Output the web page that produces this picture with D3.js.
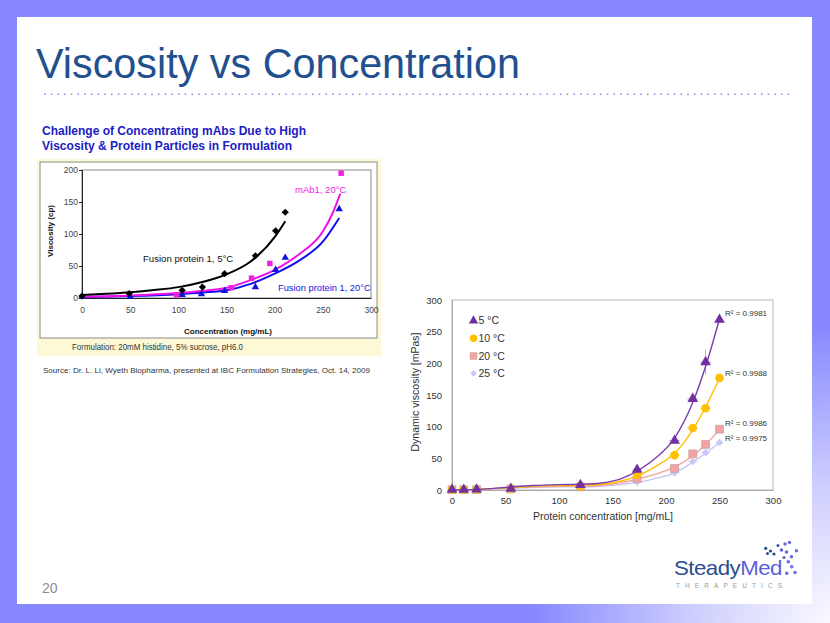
<!DOCTYPE html>
<html><head><meta charset="utf-8">
<script src="https://cdn.jsdelivr.net/npm/d3@7"></script>
<style>
body{margin:0;background:#fff}
svg{display:block}
text{font-family:"Liberation Sans",Arial,sans-serif}
</style>
</head><body>
<svg id="c" width="830" height="623"></svg>
<script>
// ---------- DATA ----------
// Left chart (pasted figure): Viscosity (cp) vs Concentration (mg/mL)
const leftXTicks = [0, 50, 100, 150, 200, 250, 300];
const leftYTicks = [0, 50, 100, 150, 200];
const fp5X  = [0, 49, 104, 125, 148, 180, 201, 211];
const fp5Y  = [3, 7, 12, 17, 38, 66, 105, 134];
const mab20X = [98, 155, 176, 195, 269];
const mab20Y = [5, 16, 31, 54, 195];
const fp20X = [0, 50, 104, 124, 148, 180, 201, 211, 267];
const fp20Y = [2, 2, 5, 6, 11, 17, 44, 63, 139];
// fitted trend lines as drawn in the figure
const fp5FitX  = [0, 25, 50, 75, 100, 125, 150, 175, 200, 211];
const fp5FitY  = [4.5, 6.5, 9, 12.5, 17, 25, 37, 57, 95, 120];
const mabFitX  = [0, 50, 100, 125, 150, 175, 200, 225, 250, 260, 268];
const mabFitY  = [2, 4, 8, 11, 16, 28, 44, 68, 104, 132, 163];
const fp20FitX = [0, 50, 100, 125, 150, 175, 200, 225, 250, 267];
const fp20FitY = [1.5, 3, 6, 8.5, 12, 22, 38, 58, 88, 125];

// Right chart: Dynamic viscosity [mPas] vs Protein concentration [mg/mL]
const rightXTicks = [0, 50, 100, 150, 200, 250, 300];
const rightYTicks = [0, 50, 100, 150, 200, 250, 300];
const conc = [0, 11, 23, 55, 120, 173, 208, 225, 237, 250];
const visc5  = [0.5, 0.6, 0.8, 2, 8, 32, 78, 144, 202, 269];
const visc10 = [0.5, 0.5, 0.7, 2, 6, 24, 55, 98, 129, 177];
const visc20 = [0.5, 0.5, 0.5, 1.5, 5, 18, 34, 57, 72, 96];
const visc25 = [0.3, 0.3, 0.4, 1.2, 4, 13, 27, 45, 59, 75];
const errX   = [0, 0, 0, 0, 3, 4, 5, 5, 5, 3];
const err5Y  = [0, 0, 0, 0, 3, 3, 5, 4, 20, 3];
const fitConc = [0, 25, 50, 75, 100, 120, 140, 160, 173, 190, 208, 225, 237, 250];
const fit5  = [0, 1, 4, 7, 8.5, 9, 11, 19, 30, 50, 82, 138, 195, 270];
const fit10 = [0, 1, 3.5, 6, 7, 7.5, 9, 15, 22, 37, 58, 95, 131, 177];
const fit20 = [0, 1, 3, 5, 6, 6, 7.5, 12, 17, 25, 36, 54, 72, 95];
const fit25 = [0, 0.8, 2.5, 4, 5, 5, 6, 9, 12, 18, 27, 44, 58, 75];
const seriesNames = ["5 °C", "10 °C", "20 °C", "25 °C"];
const r2Labels = ["R² = 0.9981", "R² = 0.9988", "R² = 0.9986", "R² = 0.9975"];

// ---------- DRAW ----------
const svg = d3.select("#c");
const W = 830, H = 623;

// slide frame
const defs = svg.append("defs");
const rg = defs.append("radialGradient").attr("id", "glow")
  .attr("gradientUnits", "userSpaceOnUse").attr("cx", 830).attr("cy", 623).attr("r", 300);
rg.append("stop").attr("offset", "0%").attr("stop-color", "#fff").attr("stop-opacity", 0.95);
rg.append("stop").attr("offset", "45%").attr("stop-color", "#fff").attr("stop-opacity", 0.6);
rg.append("stop").attr("offset", "100%").attr("stop-color", "#fff").attr("stop-opacity", 0);
const framePath = `M0,0H${W}V${H}H0Z M17,17V604H812V17Z`;
svg.append("path").attr("d", framePath).attr("fill", "#8787FF").attr("fill-rule", "evenodd");
svg.append("path").attr("d", framePath).attr("fill", "url(#glow)").attr("fill-rule", "evenodd");

// title
svg.append("text").attr("x", 36).attr("y", 78)
  .attr("font-size", 42).attr("fill", "#22508F")
  .attr("textLength", 484).attr("lengthAdjust", "spacingAndGlyphs")
  .text("Viscosity vs Concentration");
// dotted rule
svg.append("line").attr("x1", 44).attr("x2", 790).attr("y1", 94.3).attr("y2", 94.3)
  .attr("stroke", "#8C8CF5").attr("stroke-width", 1.6)
  .attr("stroke-dasharray", "1.6,5.1");

// page number
svg.append("text").attr("x", 42).attr("y", 593).attr("font-size", 14).attr("fill", "#8E8E8E").text("20");

// rotated-square diamond generator
const diamondPath = size => d3.symbol(d3.symbolSquare, size)();

// ---------- LEFT FIGURE ----------
const lt = svg.append("g");
lt.append("text").attr("x", 42).attr("y", 135).attr("font-size", 12).attr("font-weight", "bold")
  .attr("fill", "#2020C4").attr("textLength", 264).attr("lengthAdjust", "spacingAndGlyphs")
  .text("Challenge of Concentrating mAbs Due to High");
lt.append("text").attr("x", 42).attr("y", 150).attr("font-size", 12).attr("font-weight", "bold")
  .attr("fill", "#2020C4").attr("textLength", 250).attr("lengthAdjust", "spacingAndGlyphs")
  .text("Viscosity & Protein Particles in Formulation");

lt.append("rect").attr("x", 37).attr("y", 159).attr("width", 344).attr("height", 197).attr("fill", "#FDF9D6");
lt.append("rect").attr("x", 40).attr("y", 162).attr("width", 337).attr("height", 176)
  .attr("fill", "#fff").attr("stroke", "#8a8a8a").attr("stroke-width", 1);

const xL = d3.scaleLinear().domain([0, 300]).range([82, 371]);
const yL = d3.scaleLinear().domain([0, 200]).range([298, 170]);

// plot frame
lt.append("rect").attr("x", xL(0)).attr("y", yL(200)).attr("width", xL(300) - xL(0)).attr("height", yL(0) - yL(200))
  .attr("fill", "none").attr("stroke", "#888").attr("stroke-width", 1);

const axL = lt.append("g").attr("transform", `translate(${xL(0)},0)`)
  .call(d3.axisLeft(yL).tickValues(leftYTicks).tickSize(3).tickPadding(1));
axL.select(".domain").attr("stroke", "#222");
axL.selectAll("line").attr("stroke", "#222");
axL.selectAll("text").attr("font-size", 8.5).attr("fill", "#444").attr("font-family", "Liberation Sans, Arial");

const axB = lt.append("g").attr("transform", `translate(0,${yL(0)})`)
  .call(d3.axisBottom(xL).tickValues(leftXTicks).tickSize(0).tickPadding(9));
axB.select(".domain").attr("stroke", "#222");
axB.selectAll("text").attr("font-size", 8.5).attr("fill", "#444").attr("font-family", "Liberation Sans, Arial");

lt.append("text").attr("x", 228).attr("y", 334).attr("text-anchor", "middle")
  .attr("font-size", 8).attr("font-weight", "bold").attr("fill", "#111").text("Concentration (mg/mL)");
lt.append("text").attr("transform", "translate(53,231) rotate(-90)").attr("text-anchor", "middle")
  .attr("font-size", 8).attr("font-weight", "bold").attr("fill", "#111").text("Viscosity (cp)");

const lineL = d3.line().x(d => xL(d[0])).y(d => yL(d[1])).curve(d3.curveMonotoneX);
const zip = (a, b) => a.map((v, i) => [v, b[i]]);
lt.append("path").attr("d", lineL(zip(fp20FitX, fp20FitY))).attr("fill", "none").attr("stroke", "#1010F0").attr("stroke-width", 2);
lt.append("path").attr("d", lineL(zip(mabFitX, mabFitY))).attr("fill", "none").attr("stroke", "#F010E8").attr("stroke-width", 2);
lt.append("path").attr("d", lineL(zip(fp5FitX, fp5FitY))).attr("fill", "none").attr("stroke", "#000").attr("stroke-width", 2);

lt.selectAll(".tb").data(zip(fp20X, fp20Y)).join("path")
  .attr("transform", d => `translate(${xL(d[0])},${yL(d[1])})`)
  .attr("d", d3.symbol(d3.symbolTriangle, 24)).attr("fill", "#1010E0");
lt.selectAll(".sq").data(zip(mab20X, mab20Y)).join("path")
  .attr("transform", d => `translate(${xL(d[0])},${yL(d[1])})`)
  .attr("d", d3.symbol(d3.symbolSquare, 30)).attr("fill", "#F020E0");
lt.selectAll(".dm").data(zip(fp5X, fp5Y)).join("path")
  .attr("transform", d => `translate(${xL(d[0])},${yL(d[1])}) rotate(45)`)
  .attr("d", diamondPath(26)).attr("fill", "#000");

lt.append("text").attr("x", 143).attr("y", 262).attr("font-size", 9.6).attr("fill", "#111").text("Fusion protein 1, 5°C");
lt.append("text").attr("x", 295).attr("y", 193).attr("font-size", 9.5).attr("fill", "#F020E0").text("mAb1, 20°C");
lt.append("text").attr("x", 278).attr("y", 291).attr("font-size", 9.3).attr("fill", "#1515E0").text("Fusion protein 1, 20°C");

lt.append("text").attr("x", 72).attr("y", 350).attr("font-size", 8.6).attr("fill", "#333")
  .attr("textLength", 171).attr("lengthAdjust", "spacingAndGlyphs")
  .text("Formulation: 20mM histidine, 5% sucrose, pH6.0");
lt.append("text").attr("x", 43).attr("y", 373).attr("font-size", 8).attr("fill", "#333")
  .attr("textLength", 327).attr("lengthAdjust", "spacingAndGlyphs")
  .text("Source: Dr. L. Li, Wyeth Biopharma, presented at IBC Formulation Strategies, Oct. 14, 2009");

// ---------- RIGHT CHART ----------
const rt = svg.append("g");
const xR = d3.scaleLinear().domain([0, 300]).range([452, 773]);
const yR = d3.scaleLinear().domain([0, 300]).range([490, 300]);

rt.append("rect").attr("x", xR(0)).attr("y", yR(300)).attr("width", xR(300) - xR(0)).attr("height", yR(0) - yR(300))
  .attr("fill", "none").attr("stroke", "#C4C4C4").attr("stroke-width", 1.2);
const aRL = rt.append("g").attr("transform", `translate(${xR(0)},0)`)
  .call(d3.axisLeft(yR).tickValues(rightYTicks).tickSize(0).tickPadding(10));
aRL.select(".domain").attr("stroke", "#A8A8A8");
aRL.selectAll("text").attr("font-size", 9.5).attr("fill", "#333").attr("font-family", "Liberation Sans, Arial");
const aRB = rt.append("g").attr("transform", `translate(0,${yR(0)})`)
  .call(d3.axisBottom(xR).tickValues(rightXTicks).tickSize(0).tickPadding(7));
aRB.select(".domain").attr("stroke", "#A8A8A8");
aRB.selectAll("text").attr("font-size", 9.5).attr("fill", "#333").attr("font-family", "Liberation Sans, Arial");

rt.append("text").attr("x", 603).attr("y", 520).attr("text-anchor", "middle").attr("font-size", 10.5)
  .attr("fill", "#333").text("Protein concentration [mg/mL]");
rt.append("text").attr("transform", "translate(419,392) rotate(-90)").attr("text-anchor", "middle")
  .attr("font-size", 10.5).attr("fill", "#333").text("Dynamic viscosity [mPas]");

const series = [
  {name: seriesNames[0], vals: visc5,  fit: fit5,  color: "#7030A0", line: "#7A3DB0", sym: d3.symbolTriangle, size: 50, rot: 0,  stroke: "none"},
  {name: seriesNames[1], vals: visc10, fit: fit10, color: "#FFC000", line: "#FFC000", sym: d3.symbolCircle,   size: 58, rot: 0,  stroke: "none"},
  {name: seriesNames[2], vals: visc20, fit: fit20, color: "#F4A3A3", line: "#F2A0A0", sym: d3.symbolSquare,   size: 62, rot: 0,  stroke: "#B89A9A"},
  {name: seriesNames[3], vals: visc25, fit: fit25, color: "#C9C9F7", line: "#C6C6F4", sym: d3.symbolSquare,   size: 30, rot: 45, stroke: "none"}
];
const lineR = d3.line().x(d => xR(d[0])).y(d => yR(d[1])).curve(d3.curveMonotoneX);

// draw in reverse so 5°C is on top
series.slice().reverse().forEach(s => {
  const g = rt.append("g");
  g.append("path").attr("d", lineR(zip(fitConc, s.fit))).attr("fill", "none")
    .attr("stroke", s.line).attr("stroke-width", 1.4);
  const pts = zip(conc, s.vals);
  // horizontal error bars
  g.selectAll(".ex").data(pts.map((p, i) => [p, errX[i]]).filter(d => d[1] > 0)).join("line")
    .attr("x1", d => xR(d[0][0] - d[1])).attr("x2", d => xR(d[0][0] + d[1]))
    .attr("y1", d => yR(d[0][1])).attr("y2", d => yR(d[0][1]))
    .attr("stroke", s.color).attr("stroke-width", 0.8).attr("opacity", 0.6);
  if (s.name === seriesNames[0]) {
    g.selectAll(".ey").data(pts.map((p, i) => [p, err5Y[i]]).filter(d => d[1] > 0)).join("line")
      .attr("x1", d => xR(d[0][0])).attr("x2", d => xR(d[0][0]))
      .attr("y1", d => yR(d[0][1] - d[1])).attr("y2", d => yR(d[0][1] + d[1]))
      .attr("stroke", s.color).attr("stroke-width", 0.8).attr("opacity", 0.55);
  }
  g.selectAll(".m").data(pts).join("path")
    .attr("transform", d => `translate(${xR(d[0])},${yR(d[1])}) rotate(${s.rot})`)
    .attr("d", d3.symbol(s.sym, s.size)).attr("fill", s.color)
    .attr("stroke", s.stroke).attr("stroke-width", 0.6);
});

// legend
const legY = [320.7, 338.3, 356, 373.3];
series.forEach((s, i) => {
  rt.append("path").attr("transform", `translate(473.5,${legY[i]}) rotate(${s.rot})`)
    .attr("d", d3.symbol(s.sym, s.size * 0.75)).attr("fill", s.color)
    .attr("stroke", s.stroke).attr("stroke-width", 0.5);
  rt.append("text").attr("x", 478.5).attr("y", legY[i] + 3.6).attr("font-size", 10.5)
    .attr("fill", "#333").text(s.name);
});
// R² labels
const r2Y = [313.3, 373.3, 423.3, 438.3];
r2Labels.forEach((t, i) => {
  rt.append("text").attr("x", 725).attr("y", r2Y[i] + 3).attr("font-size", 8).attr("fill", "#333").text(t);
});

// ---------- LOGO ----------
const logo = svg.append("g");
const lt1 = logo.append("text").attr("x", 674).attr("y", 575).attr("font-size", 21)
  .attr("font-family", "Open Sans, Liberation Sans, sans-serif").attr("letter-spacing", -0.5)
  .attr("textLength", 108).attr("lengthAdjust", "spacingAndGlyphs");
lt1.append("tspan").attr("fill", "#2B4C8E").text("Steady");
lt1.append("tspan").attr("fill", "#5B62D8").text("Med");
logo.append("text").attr("x", 676).attr("y", 588).attr("font-size", 6.5).attr("fill", "#9A9A9A")
  .attr("textLength", 106).attr("lengthAdjust", "spacing").text("THERAPEUTICS");
const logoDots = [
  [765.7, 548.3, 1.6, "#2B4C8E"], [770.5, 551, 1.6, "#2B4C8E"], [774, 554, 1.6, "#2B4C8E"], [767.5, 553.5, 1.5, "#2B4C8E"],
  [778, 545.5, 1.5, "#3A4EA8"], [785, 544, 1.7, "#6A6AE0"], [789.5, 542.5, 1.7, "#6A6AE0"], [781.5, 550, 1.7, "#5A5ED8"],
  [786.5, 552, 1.8, "#6A6AE0"], [796.5, 550.7, 1.8, "#7070E8"], [791.5, 556.7, 1.8, "#6A6AE0"], [784, 557.5, 1.5, "#5A5ED8"],
  [788.3, 561.7, 1.8, "#6A6AE0"], [791.7, 566.7, 1.8, "#7070E8"], [795, 572.5, 1.8, "#7070E8"], [786.7, 573.3, 1.7, "#6A6AE0"]
];
logo.selectAll("circle").data(logoDots).join("circle")
  .attr("cx", d => d[0]).attr("cy", d => d[1]).attr("r", d => d[2]).attr("fill", d => d[3]);
</script>
</body></html>
